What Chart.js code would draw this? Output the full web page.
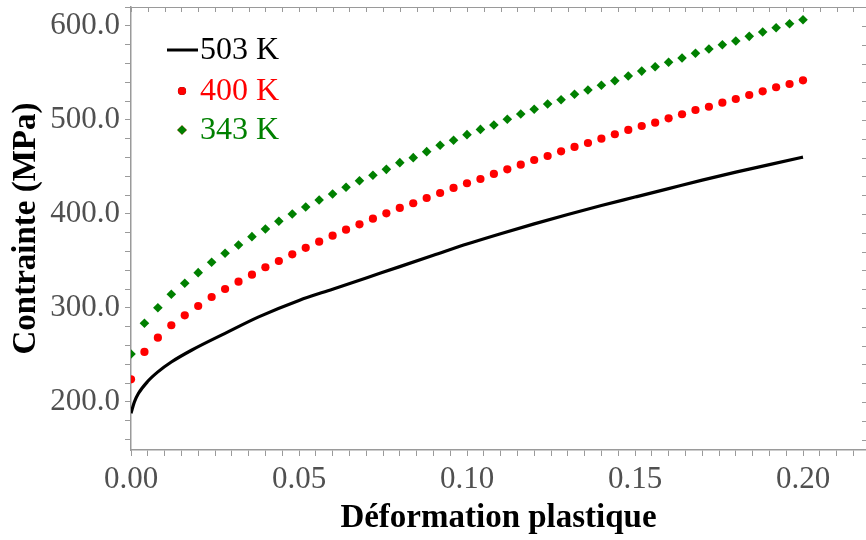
<!DOCTYPE html>
<html><head><meta charset="utf-8">
<script src="https://cdn.jsdelivr.net/npm/chart.js@4.4.0/dist/chart.umd.min.js"></script>
<style>html,body{margin:0;padding:0;background:#fff;}#wrap{width:866px;height:540px;}</style>
</head><body><div id="wrap"><canvas id="c" width="866" height="540"></canvas></div>
<script>
// ---- data ----
const seriesLabels = ['503 K', '400 K', '343 K'];
const seriesColors = ['#000000', '#ff0000', '#008000'];

const strainPoints = [0.000,0.004,0.008,0.012,0.016,0.020,0.024,0.028,0.032,0.036,
  0.040,0.044,0.048,0.052,0.056,0.060,0.064,0.068,0.072,0.076,
  0.080,0.084,0.088,0.092,0.096,0.100,0.104,0.108,0.112,0.116,
  0.120,0.124,0.128,0.132,0.136,0.140,0.144,0.148,0.152,0.156,
  0.160,0.164,0.168,0.172,0.176,0.180,0.184,0.188,0.192,0.196,0.200];

const stress400K = [224.1,253.2,268.4,281.6,292.2,302.1,311.7,320.2,328.0,335.4,
  343.3,350.0,357.1,364.0,370.5,376.9,383.3,389.0,395.0,400.7,
  406.4,411.4,417.0,422.3,427.7,432.7,437.2,442.6,447.5,452.5,
  457.4,461.7,466.7,471.3,475.5,480.1,484.8,489.4,493.6,497.1,
  501.8,506.1,510.6,514.1,518.4,522.3,526.6,530.5,534.8,538.3,542.2];

const stress343K = [251.1,283.7,300.3,314.6,326.3,337.6,348.6,358.2,367.0,375.9,
  384.0,392.2,400.0,407.5,414.9,421.3,428.4,435.4,441.2,447.5,
  454.6,459.9,466.3,473.1,478.4,484.4,490.0,494.7,500.7,506.4,
  511.4,517.0,521.6,527.3,531.9,536.9,541.8,546.8,552.0,556.7,
  561.4,566.0,571.0,575.5,580.1,584.0,589.0,593.6,598.2,602.4,606.7];

const strain503K = [0,0.001,0.0022,0.005,0.008,0.012,0.018,0.028,0.038,0.050,0.060,0.070,0.080,0.090,
  0.100,0.110,0.120,0.130,0.140,0.150,0.160,0.170,0.180,0.190,0.200];
const stress503K = [188,200,209,222,232,242.5,255,273,290.5,308,320,332,344,356,
  368,379,389.5,399.5,409,418,427,436,444.5,452.5,460.5];

const xMajorTicks = [0.00, 0.05, 0.10, 0.15, 0.20];
const xMinorTicks = [0,0.005,0.01,0.015,0.02,0.025,0.03,0.035,0.04,0.045,0.05,0.055,0.06,0.065,0.07,0.075,
  0.08,0.085,0.09,0.095,0.1,0.105,0.11,0.115,0.12,0.125,0.13,0.135,0.14,0.145,0.15,0.155,0.16,0.165,
  0.17,0.175,0.18,0.185,0.19,0.195,0.2,0.205,0.21,0.215];
const yMajorTicks = [200, 300, 400, 500, 600];
const yMinorTicks = [160,180,200,220,240,260,280,300,320,340,360,380,400,420,440,460,480,500,520,540,560,580,600,620];

const xLabel = 'Déformation plastique';
const yLabel = 'Contrainte (MPa)';

// ---- chart ----
const FONT = '"Liberation Serif", "Times New Roman", serif';
const AXIS_GREY = '#9a9a9a';
const isMajor = (v, list) => list.some(m => Math.abs(m - v) < 1e-6);

const toXY = (xs, ys) => xs.map((x, i) => ({x: x, y: ys[i]}));

const framePlugin = {
  id: 'frame',
  afterDatasetsDraw(chart) {
    const {ctx, chartArea: a, scales} = chart;
    ctx.save();
    ctx.strokeStyle = AXIS_GREY;
    ctx.lineWidth = 1.2;
    ctx.beginPath();
    ctx.moveTo(a.left, a.top + 0.5); ctx.lineTo(a.right, a.top + 0.5);
    ctx.stroke();
    ctx.lineWidth = 1;
    ctx.beginPath();
    xMinorTicks.forEach(v => {
      const px = Math.round(scales.x.getPixelForValue(v)) + 0.5;
      ctx.moveTo(px, a.top); ctx.lineTo(px, a.top + 5);
    });
    yMinorTicks.forEach(v => {
      const py = Math.round(scales.y.getPixelForValue(v)) + 0.5;
      ctx.moveTo(a.right, py); ctx.lineTo(a.right - 4, py);
    });
    ctx.stroke();
    ctx.restore();
  }
};

const legendPlugin = {
  id: 'insideLegend',
  afterDraw(chart) {
    const {ctx} = chart;
    const rows = [50, 91, 130];
    ctx.save();
    ctx.font = '32px ' + FONT;
    ctx.textBaseline = 'middle';
    ctx.textAlign = 'left';
    chart.data.datasets.forEach((ds, i) => {
      const y = rows[i];
      if (i === 0) {
        ctx.strokeStyle = ds.borderColor; ctx.lineWidth = 3;
        ctx.beginPath(); ctx.moveTo(167, y); ctx.lineTo(198, y); ctx.stroke();
      } else {
        Chart.helpers.drawPoint(ctx, {pointStyle: ds.pointStyle, radius: ds.pointRadius, borderWidth: 0}, 182, y);
        ctx.fillStyle = ds.backgroundColor; ctx.fill();
      }
      ctx.fillStyle = seriesColors[i];
      ctx.fillText(ds.label, 200, y + 1);
    });
    ctx.restore();
  }
};

new Chart(document.getElementById('c'), {
  type: 'scatter',
  data: {
    datasets: [
      {label: seriesLabels[0], data: toXY(strain503K, stress503K), showLine: true,
       borderColor: seriesColors[0], backgroundColor: seriesColors[0], borderWidth: 3.2,
       pointRadius: 0, cubicInterpolationMode: 'monotone'},
      {label: seriesLabels[1], data: toXY(strainPoints, stress400K), showLine: false,
       pointStyle: 'circle', pointRadius: 4.1, borderWidth: 0,
       backgroundColor: seriesColors[1], borderColor: seriesColors[1]},
      {label: seriesLabels[2], data: toXY(strainPoints, stress343K), showLine: false,
       pointStyle: 'rectRot', pointRadius: 4.8, borderWidth: 0,
       backgroundColor: seriesColors[2], borderColor: seriesColors[2]}
    ]
  },
  options: {
    responsive: false, animation: false, devicePixelRatio: 1,
    layout: {autoPadding: false, padding: {top: 7, right: 0, left: 0, bottom: 0}},
    plugins: {legend: {display: false}, tooltip: {enabled: false}},
    scales: {
      x: {
        type: 'linear', min: 0, max: 0.21875,
        afterBuildTicks: s => { s.ticks = xMinorTicks.map(v => ({value: v})); },
        afterFit: s => { s.height = 90; s.paddingLeft = 0; s.paddingRight = 0; },
        ticks: {autoSkip: false, maxRotation: 0, padding: 5, color: '#505050',
          font: {family: FONT, size: 31},
          callback: v => isMajor(v, xMajorTicks) ? v.toFixed(2) : ''},
        grid: {drawOnChartArea: false, drawTicks: true, tickLength: 6, tickColor: AXIS_GREY, tickWidth: 1},
        border: {color: AXIS_GREY, width: 1.5},
        title: {display: true, text: xLabel, color: '#000', font: {family: FONT, size: 33, weight: 'bold'},
          padding: {top: 0, bottom: 2}}
      },
      y: {
        type: 'linear', min: 148.9, max: 620.2,
        afterBuildTicks: s => { s.ticks = yMinorTicks.map(v => ({value: v})); },
        afterFit: s => { s.width = 131; s.paddingTop = 0; s.paddingBottom = 0; },
        ticks: {autoSkip: false, padding: 5, color: '#505050',
          font: {family: FONT, size: 31},
          callback: v => isMajor(v, yMajorTicks) ? v.toFixed(1) : ''},
        grid: {drawOnChartArea: false, drawTicks: true, tickLength: 6, tickColor: AXIS_GREY, tickWidth: 1},
        border: {color: AXIS_GREY, width: 1.5},
        title: {display: true, text: yLabel, color: '#000', font: {family: FONT, size: 33, weight: 'bold'},
          padding: {top: 7, bottom: 0}}
      }
    }
  },
  plugins: [framePlugin, legendPlugin]
});
</script></body></html>
